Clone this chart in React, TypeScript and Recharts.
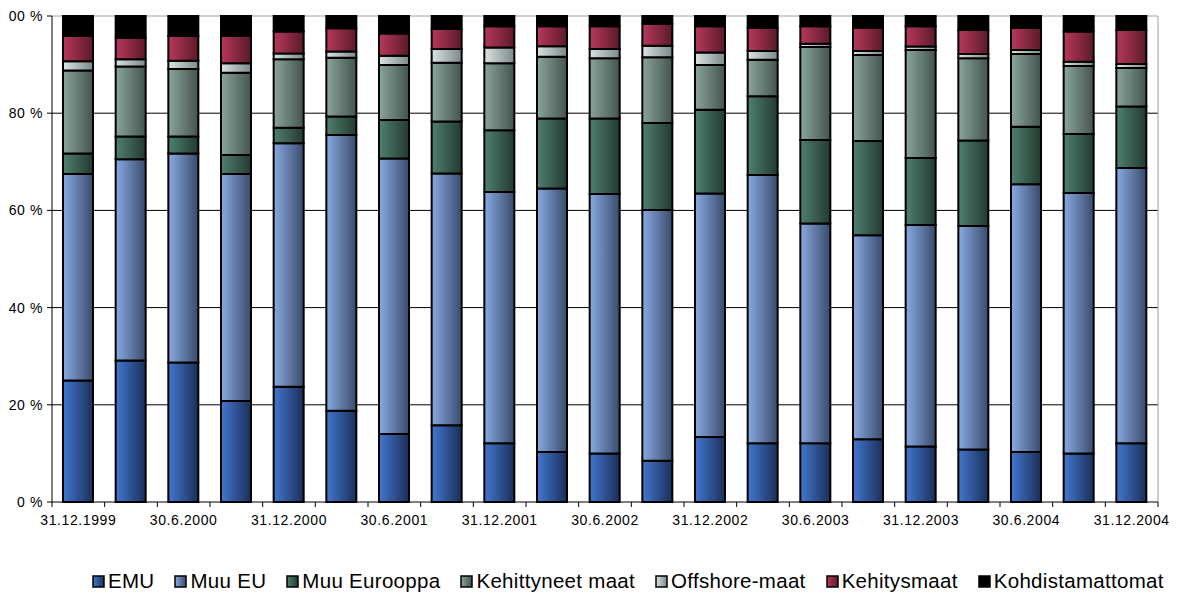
import React from "react";
import {
  BarChart,
  Bar,
  XAxis,
  YAxis,
  CartesianGrid,
  Legend,
} from "recharts";

const categories = [
  "31.12.1999", "31.3.2000", "30.6.2000", "30.9.2000", "31.12.2000", "31.3.2001",
  "30.6.2001", "30.9.2001", "31.12.2001", "31.3.2002", "30.6.2002", "30.9.2002",
  "31.12.2002", "31.3.2003", "30.6.2003", "30.9.2003", "31.12.2003", "31.3.2004",
  "30.6.2004", "30.9.2004", "31.12.2004",
];

const emu = [25.0, 29.1, 28.7, 20.8, 23.7, 18.8, 14.0, 15.8, 12.1, 10.3, 10.0, 8.5, 13.4, 12.1, 12.1, 12.9, 11.4, 10.8, 10.3, 10.0, 12.1];
const muuEu = [42.5, 41.4, 43.0, 46.7, 50.1, 56.7, 56.7, 51.8, 51.7, 54.2, 53.4, 51.6, 50.1, 55.2, 45.2, 42.0, 45.6, 46.0, 55.1, 53.6, 56.6];
const muuEurooppa = [4.2, 4.7, 3.5, 3.9, 3.2, 3.8, 7.9, 10.7, 12.7, 14.4, 15.5, 17.9, 17.2, 16.2, 17.2, 19.4, 13.8, 17.6, 11.8, 12.1, 12.7];
const kehittyneet = [17.1, 14.4, 13.9, 16.9, 14.1, 12.1, 11.3, 12.1, 13.8, 12.7, 12.4, 13.5, 9.2, 7.5, 19.1, 17.7, 22.2, 16.9, 15.0, 14.0, 7.9];
const offshore = [1.9, 1.5, 1.7, 2.0, 1.2, 1.3, 1.9, 2.8, 3.2, 2.2, 1.9, 2.4, 2.6, 1.8, 0.7, 0.8, 0.7, 0.9, 0.8, 0.9, 0.8];
const kehitysmaat = [5.2, 4.4, 5.1, 5.6, 4.5, 4.8, 4.6, 4.1, 4.4, 4.1, 4.7, 4.5, 5.4, 4.8, 3.6, 4.8, 4.2, 4.9, 4.6, 6.2, 7.0];
const kohdistamattomat = [4.1, 4.5, 4.1, 4.1, 3.2, 2.5, 3.6, 2.7, 2.1, 2.1, 2.1, 1.6, 2.1, 2.4, 2.1, 2.4, 2.1, 2.9, 2.4, 3.2, 2.9];

const yTicks = [0, 20, 40, 60, 80, 100];

const series = [
  { key: "emu", name: "EMU", from: "#4277cf", to: "#1b2f58" },
  { key: "muuEu", name: "Muu EU", from: "#88aae2", to: "#3a4b6c" },
  { key: "muuEurooppa", name: "Muu Eurooppa", from: "#4f806f", to: "#233a30" },
  { key: "kehittyneet", name: "Kehittyneet maat", from: "#89a59b", to: "#44544d" },
  { key: "offshore", name: "Offshore-maat", from: "#dce3e3", to: "#7b8989" },
  { key: "kehitysmaat", name: "Kehitysmaat", from: "#b8385c", to: "#5a1a29" },
  { key: "kohdistamattomat", name: "Kohdistamattomat", from: "#000000", to: "#000000" },
];

const data = categories.map((c, i) => ({
  date: c,
  emu: emu[i],
  muuEu: muuEu[i],
  muuEurooppa: muuEurooppa[i],
  kehittyneet: kehittyneet[i],
  offshore: offshore[i],
  kehitysmaat: kehitysmaat[i],
  kohdistamattomat: kohdistamattomat[i],
}));

const W = 1186;
const H = 594;
const M = { top: 16, right: 28, left: 0, bottom: 62 };
const Y_W = 52;
const STEP = (W - M.right - M.left - Y_W) / categories.length;
const font = "'Liberation Sans', Arial, sans-serif";

function XTick(props: any) {
  const { x, y, payload, index } = props;
  const axisY = y - 13;
  return (
    <g>
      <line x1={x - STEP / 2} x2={x - STEP / 2} y1={axisY} y2={axisY + 5} stroke="#000" />
      {index === categories.length - 1 && (
        <line x1={x + STEP / 2} x2={x + STEP / 2} y1={axisY} y2={axisY + 5} stroke="#000" />
      )}
      {index % 2 === 0 && (
        <text x={x} y={y} dy="0.71em" textAnchor="middle" fill="#000"
          style={{ fontFamily: font, fontSize: 14, letterSpacing: 0.6 }}>
          {payload.value}
        </text>
      )}
    </g>
  );
}

function LegendBox() {
  return (
    <div style={{
      display: "flex", flexWrap: "nowrap", whiteSpace: "nowrap", paddingLeft: 92,
      fontFamily: font, fontSize: 20.5, color: "#000", letterSpacing: 0.3,
    }}>
      {series.map((s) => (
        <span key={s.key} style={{ display: "flex", flexShrink: 0, alignItems: "center", marginRight: 20 }}>
          <svg width={13} height={13} style={{ marginRight: 3, flexShrink: 0 }}>
            <rect x={1} y={1} width={11} height={11} fill={`url(#g-${s.key})`} stroke="#000" strokeWidth={1.5} />
          </svg>
          {s.name}
        </span>
      ))}
    </div>
  );
}

export default function App() {
  return (
    <div style={{ margin: "-8px 0 0 -8px", width: W, height: H, background: "#fff", overflow: "hidden" }}>
      <BarChart width={W} height={H} data={data} margin={M} barSize={30}>
        <defs>
          {series.map((s) => (
            <linearGradient key={s.key} id={`g-${s.key}`} x1="0" y1="0" x2="1" y2="0">
              <stop offset="0%" stopColor={s.from} />
              <stop offset="100%" stopColor={s.to} />
            </linearGradient>
          ))}
        </defs>
        <CartesianGrid vertical={false} stroke="#000" horizontalValues={[20, 40, 60, 80]} />
        <CartesianGrid
          stroke="#a0a0a0"
          horizontalCoordinatesGenerator={({ offset }: any) => [offset.top]}
          verticalCoordinatesGenerator={({ offset }: any) => [offset.left + offset.width]}
        />
        <XAxis
          dataKey="date"
          interval={0}
          tickLine={false}
          tickSize={5}
          tickMargin={8}
          axisLine={{ stroke: "#000" }}
          tick={<XTick />}
        />
        <YAxis
          width={Y_W}
          domain={[0, 100]}
          ticks={yTicks}
          tickFormatter={(v) => `${v} %`}
          tickSize={5}
          tickMargin={4}
          axisLine={{ stroke: "#000" }}
          tickLine={{ stroke: "#000" }}
          tick={{ fill: "#000", fontFamily: font, fontSize: 14, letterSpacing: 0.6 }}
        />
        <Legend
          layout="horizontal"
          verticalAlign="middle"
          align="center"
          wrapperStyle={{ top: 569, left: 0, width: W }}
          content={<LegendBox />}
        />
        {series.map((s) => (
          <Bar
            key={s.key}
            dataKey={s.key}
            name={s.name}
            stackId="a"
            fill={`url(#g-${s.key})`}
            stroke="#000"
            strokeWidth={2}
            isAnimationActive={false}
          />
        ))}
      </BarChart>
    </div>
  );
}
